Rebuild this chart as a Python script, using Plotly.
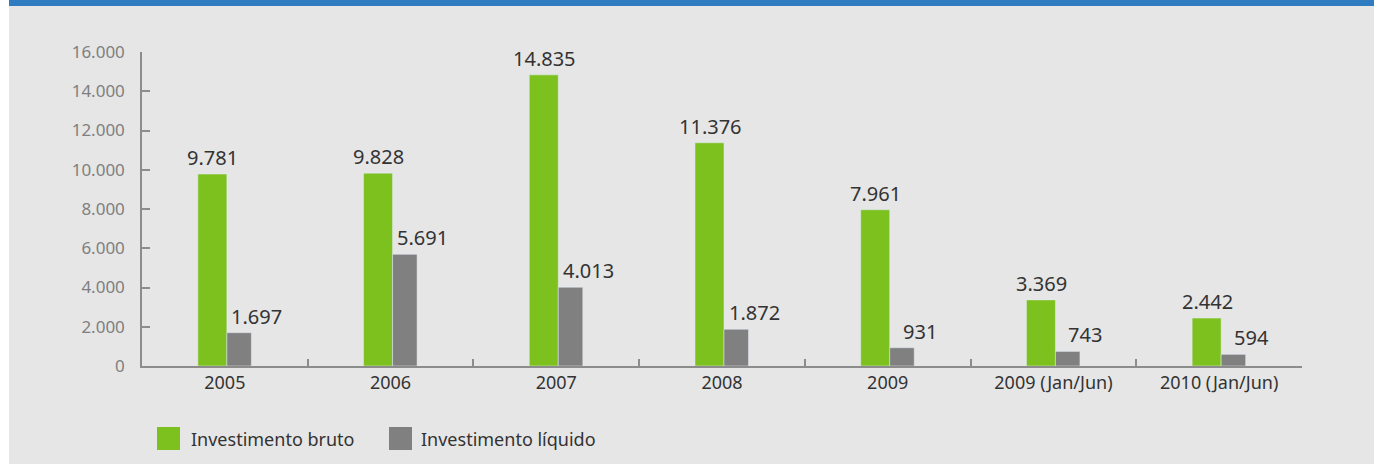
import plotly.graph_objects as go

categories = ["2005", "2006", "2007", "2008", "2009", "2009 (Jan/Jun)", "2010 (Jan/Jun)"]
bruto = [9781, 9828, 14835, 11376, 7961, 3369, 2442]
liquido = [1697, 5691, 4013, 1872, 931, 743, 594]
series_names = ["Investimento bruto", "Investimento líquido"]
y_ticks = [0, 2000, 4000, 6000, 8000, 10000, 12000, 14000, 16000]

GREEN = "#7DC11E"
GRAY = "#808080"
BG = "#E6E6E6"
FONT = "Noto Sans"

W, H = 1374, 464
L, R, T, B = 142, 72, 52, 98
PW, PH = W - L - R, H - T - B


def px_x(p):
    return (p - L) / PW


def px_y(p):
    return (H - B - p) / PH


def fmt(v):
    return f"{v:,}".replace(",", ".")


fig = go.Figure()
fig.add_trace(go.Bar(x=categories, y=bruto, name=series_names[0], marker_color=GREEN,
                     width=0.175, offset=-0.163, showlegend=False))
fig.add_trace(go.Bar(x=categories, y=liquido, name=series_names[1], marker_color=GRAY,
                     width=0.148, offset=0.012, showlegend=False))

annotations = []
for i, v in enumerate(bruto):
    annotations.append(dict(x=i, y=v, text=fmt(v), showarrow=False,
                            xref="x", yref="y", yanchor="bottom", xshift=-12, yshift=1,
                            font=dict(family=FONT, size=20, color="#333333")))
for i, v in enumerate(liquido):
    annotations.append(dict(x=i, y=v, text=fmt(v), showarrow=False,
                            xref="x", yref="y", yanchor="bottom", xshift=32, yshift=1,
                            font=dict(family=FONT, size=20, color="#333333")))

# custom legend
legend_items = [(157, 191, GREEN, series_names[0]), (389, 421, GRAY, series_names[1])]
shapes = []
for sx, tx, col, name in legend_items:
    shapes.append(dict(type="rect", xref="paper", yref="paper",
                       x0=px_x(sx), x1=px_x(sx + 23), y0=px_y(450), y1=px_y(427),
                       fillcolor=col, line=dict(width=0)))
    annotations.append(dict(x=px_x(tx - 2), y=px_y(438.5), xref="paper", yref="paper",
                            xanchor="left", yanchor="middle", text=name, showarrow=False,
                            font=dict(family=FONT, size=18, color="#333333")))

# frame: white left strip and blue top band
shapes.append(dict(type="rect", xref="paper", yref="paper", layer="below",
                   x0=px_x(0), x1=px_x(9), y0=px_y(H), y1=px_y(0),
                   fillcolor="white", line=dict(width=0)))
shapes.append(dict(type="rect", xref="paper", yref="paper", layer="below",
                   x0=px_x(9), x1=px_x(W + 20), y0=px_y(6), y1=px_y(0),
                   fillcolor="#2F7CC0", line=dict(width=0)))

fig.update_layout(
    width=W, height=H,
    margin=dict(l=L, r=R, t=T, b=B),
    paper_bgcolor=BG, plot_bgcolor=BG,
    barmode="overlay",
    separators=",.",
    font=dict(family=FONT),
    showlegend=False,
    annotations=annotations,
    shapes=shapes,
)
fig.update_xaxes(
    type="category", range=[-0.5, 6.5],
    showline=True, linecolor="#8C8C8C", linewidth=1.5,
    ticks="inside", tickson="boundaries", ticklen=7, tickcolor="#8C8C8C", tickwidth=1.5,
    showgrid=False, zeroline=False,
    tickfont=dict(family=FONT, size=18, color="#333333"),
)
fig.update_yaxes(
    range=[0, 16000], tickvals=y_ticks, tickformat=",",
    showline=True, linecolor="#8C8C8C", linewidth=1.5,
    ticks="inside", ticklen=8, tickcolor="#8C8C8C", tickwidth=1.5,
    showgrid=False, zeroline=False, ticklabelstandoff=12,
    tickfont=dict(family=FONT, size=17, color="#7F7F7F"),
)

fig.write_html(
    "out.html",
    config={"displayModeBar": False},
    post_script=(
        "document.body.style.margin='0';"
        "document.body.style.overflow='hidden';"
        "document.documentElement.style.overflow='hidden';"
        "document.body.style.background='#E6E6E6';"
        "document.documentElement.style.background='#E6E6E6';"
    ),
)
